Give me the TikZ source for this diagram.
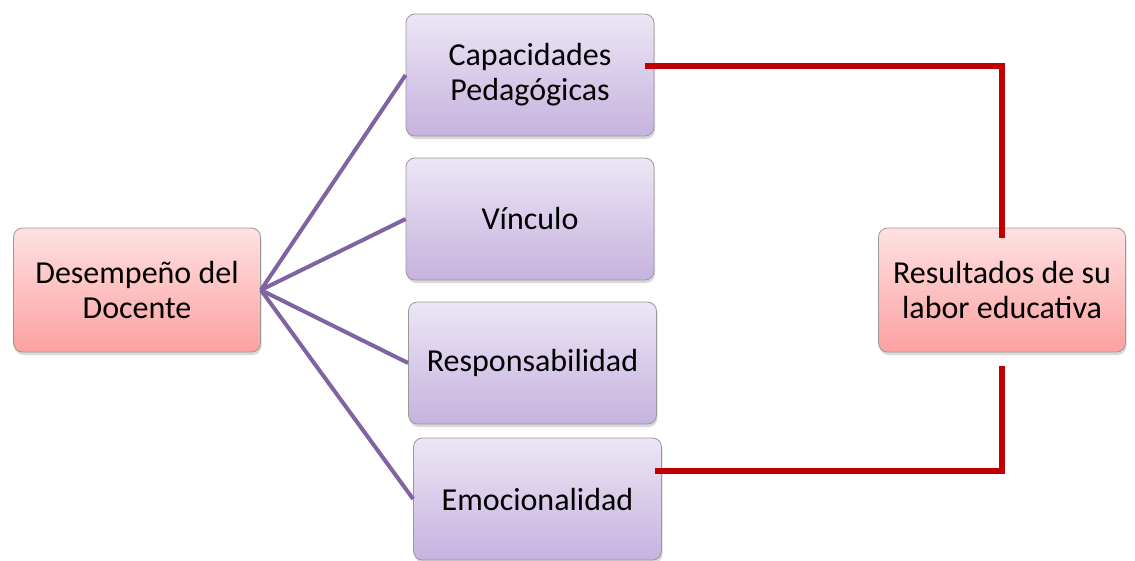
\documentclass[tikz,border=0pt]{standalone}
\usepackage{fontspec}
\setmainfont{Carlito}
\usepackage{tikz}
\usetikzlibrary{positioning, shadows}
\definecolor{lilatop}{HTML}{ECE6F5}
\definecolor{lilabot}{HTML}{C6B2DF}
\definecolor{rosatop}{HTML}{FFE1E1}
\definecolor{rosabot}{HTML}{FCA1A1}
\definecolor{lila}{HTML}{8064A2}
\definecolor{rojo}{HTML}{C00000}
\tikzstyle{caja} = [draw=gray!80, line width=0.8pt, rounded corners=9pt, align=center, font=\fontsize{32}{35}\selectfont, drop shadow={shadow xshift=1pt, shadow yshift=-3pt, opacity=0.3}]
\tikzstyle{lilacaja} = [caja, top color=lilatop, bottom color=lilabot, minimum width=248pt, minimum height=122pt]
\tikzstyle{rosacaja} = [caja, top color=rosatop, bottom color=rosabot, minimum width=247pt, minimum height=124pt]
\tikzstyle{rama} = [lila, line width=4pt]
\tikzstyle{enlace} = [rojo, line width=6.5pt]

\begin{document}
\begin{tikzpicture}[x=1pt, y=-1pt]
        \useasboundingbox (0, 0) rectangle (1135, 560);
        % cajas
        \node[rosacaja] (des) at (137, 290) {Desempeño del\\Docente};
        \node[lilacaja] (cap) at (530, 75) {Capacidades\\Pedagógicas};
        \node[lilacaja] (vin) at (530, 219) {Vínculo};
        \node[lilacaja] (resp) at (532.5, 363) {Responsabilidad};
        \node[lilacaja] (emo) at (537.5, 499) {Emocionalidad};
        \node[rosacaja] (res) at (1002, 290) {Resultados de su\\labor educativa};
        % ramas
        \draw[rama] (des.east) -- (cap.west);
        \draw[rama] (des.east) -- (vin.west);
        \draw[rama] (des.east) -- (resp.west);
        \draw[rama] (des.east) -- (emo.west);
        % enlaces
        \draw[enlace] ([xshift=-9pt, yshift=9pt]cap.east) -| ([yshift=-10pt]res.north);
        \draw[enlace] ([xshift=-7pt, yshift=28pt]emo.east) -| ([yshift=-14pt]res.south);
\end{tikzpicture}
\end{document}
